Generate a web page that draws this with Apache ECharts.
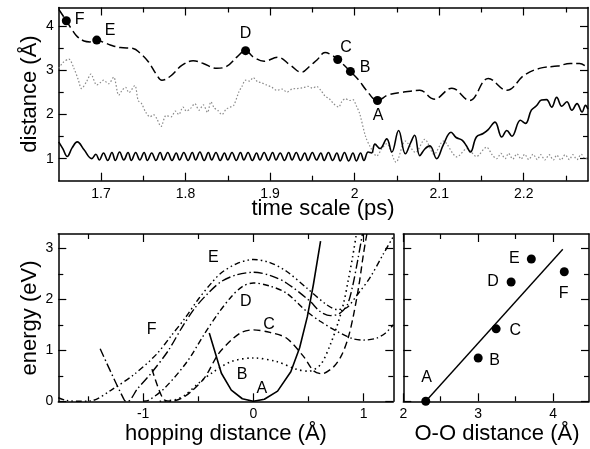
<!DOCTYPE html>
<html><head><meta charset="utf-8">
<script src="https://cdn.jsdelivr.net/npm/echarts@6/dist/echarts.min.js"></script>
<style>html,body{margin:0;padding:0;background:#fff}#c{width:590px;height:449px}</style>
</head><body><div id="c"></div>
<script>
// ---------------- DATA ----------------
// Top panel: distances (Å) vs time (ps)
const ooDistance = [[1.650,4.39],[1.659,4.13],[1.666,3.92],[1.672,3.77],[1.680,3.67],[1.687,3.65],[1.695,3.69],[1.703,3.64],[1.711,3.58],[1.723,3.52],[1.738,3.50],[1.746,3.40],[1.756,3.20],[1.766,2.90],[1.772,2.78],[1.782,2.87],[1.796,3.12],[1.809,3.22],[1.821,3.16],[1.837,3.05],[1.849,3.10],[1.861,3.31],[1.871,3.45],[1.880,3.31],[1.893,3.21],[1.909,3.30],[1.924,3.12],[1.937,2.96],[1.947,3.10],[1.956,3.25],[1.965,3.41],[1.972,3.36],[1.980,3.25],[1.995,2.98],[2.005,2.78],[2.014,2.55],[2.027,2.32],[2.040,2.45],[2.058,2.51],[2.077,2.55],[2.094,2.35],[2.115,2.60],[2.136,2.32],[2.158,2.82],[2.180,2.55],[2.201,2.90],[2.221,3.06],[2.240,3.10],[2.255,3.16],[2.266,3.16],[2.276,3.05]];
const ohDistance = [[1.650,1.38],[1.655,1.22],[1.660,1.05],[1.666,1.25],[1.672,1.38],[1.680,1.20],[1.689,1.00],[1.694,1.10],[1.698,0.97],[1.703,1.13],[1.708,0.96],[1.713,1.14],[1.717,0.96],[1.722,1.15],[1.727,0.97],[1.732,1.14],[1.736,0.96],[1.741,1.14],[1.746,0.97],[1.751,1.14],[1.755,0.96],[1.760,1.13],[1.765,0.96],[1.770,1.14],[1.774,0.97],[1.779,1.14],[1.784,0.96],[1.789,1.13],[1.793,0.97],[1.798,1.14],[1.803,0.96],[1.808,1.14],[1.812,0.97],[1.817,1.15],[1.822,0.96],[1.827,1.14],[1.831,0.97],[1.836,1.14],[1.841,0.96],[1.846,1.13],[1.850,0.97],[1.855,1.14],[1.860,0.96],[1.865,1.14],[1.869,0.97],[1.874,1.14],[1.879,0.96],[1.884,1.13],[1.888,0.97],[1.893,1.14],[1.898,0.96],[1.903,1.14],[1.907,0.97],[1.912,1.13],[1.917,0.96],[1.922,1.14],[1.926,0.97],[1.931,1.14],[1.936,0.96],[1.941,1.13],[1.945,0.96],[1.950,1.14],[1.955,0.97],[1.960,1.13],[1.964,0.96],[1.969,1.14],[1.974,0.96],[1.979,1.13],[1.983,0.95],[1.988,1.14],[1.993,0.95],[1.998,1.13],[2.002,0.95],[2.007,1.13],[2.011,0.96],[2.016,1.15],[2.020,1.13],[2.024,1.33],[2.030,1.23],[2.038,1.45],[2.044,1.15],[2.052,1.64],[2.060,1.11],[2.066,1.35],[2.071,1.53],[2.077,1.07],[2.083,1.22],[2.089,1.29],[2.097,1.00],[2.105,1.32],[2.114,1.60],[2.120,1.48],[2.127,1.42],[2.132,1.30],[2.137,1.15],[2.144,1.49],[2.152,1.57],[2.158,1.66],[2.166,1.83],[2.174,1.49],[2.180,1.64],[2.186,1.51],[2.196,1.87],[2.202,1.80],[2.209,2.10],[2.215,2.20],[2.221,2.33],[2.227,2.34],[2.233,2.17],[2.239,2.39],[2.245,2.19],[2.251,2.29],[2.257,2.10],[2.263,2.25],[2.269,2.06],[2.273,2.21],[2.276,2.12]];
const secondDistance = [[1.650,3.05],[1.655,3.18],[1.662,3.26],[1.668,3.05],[1.673,2.80],[1.677,2.59],[1.683,2.75],[1.688,2.92],[1.695,2.67],[1.699,2.72],[1.703,2.78],[1.709,2.70],[1.715,2.85],[1.721,2.44],[1.725,2.55],[1.729,2.62],[1.733,2.50],[1.740,2.66],[1.744,2.32],[1.748,2.25],[1.753,2.05],[1.758,1.95],[1.762,2.00],[1.766,1.91],[1.771,1.73],[1.777,1.98],[1.783,1.95],[1.788,2.08],[1.792,2.00],[1.797,2.17],[1.801,2.08],[1.806,2.14],[1.811,2.25],[1.816,2.10],[1.821,2.22],[1.826,2.05],[1.830,2.29],[1.834,2.15],[1.838,2.10],[1.843,2.00],[1.848,2.12],[1.853,2.17],[1.857,2.21],[1.863,2.51],[1.867,2.65],[1.871,2.78],[1.876,2.76],[1.880,2.84],[1.885,2.75],[1.890,2.72],[1.896,2.67],[1.902,2.62],[1.908,2.55],[1.914,2.58],[1.920,2.51],[1.926,2.58],[1.932,2.59],[1.939,2.61],[1.945,2.64],[1.950,2.60],[1.955,2.64],[1.960,2.55],[1.965,2.42],[1.970,2.36],[1.975,2.25],[1.981,2.17],[1.985,2.30],[1.989,2.36],[1.994,2.32],[1.998,2.34],[2.002,2.20],[2.006,2.02],[2.013,1.50],[2.019,1.25],[2.026,1.06],[2.032,1.22],[2.038,1.34],[2.049,0.92],[2.060,1.40],[2.072,1.14],[2.083,1.44],[2.094,1.10],[2.105,1.40],[2.121,1.04],[2.133,1.23],[2.144,1.05],[2.156,1.26],[2.163,1.08],[2.168,1.00],[2.173,1.12],[2.178,1.00],[2.182,1.12],[2.187,0.99],[2.192,1.11],[2.197,0.99],[2.201,1.10],[2.206,0.98],[2.211,1.10],[2.216,0.98],[2.220,1.09],[2.225,0.97],[2.230,1.09],[2.235,0.97],[2.239,1.08],[2.244,0.97],[2.249,1.09],[2.254,0.98],[2.258,1.09],[2.263,0.98],[2.268,1.10],[2.273,0.99],[2.276,1.05]];
const stateNames = ['A','B','C','D','E','F'];
const stateTime = [2.027,1.995,1.980,1.871,1.695,1.659];
const stateOO = [2.32,2.98,3.25,3.45,3.69,4.13];

// Bottom left: energy (eV) vs hopping distance (Å)
const curveA = [[-0.40,1.34],[-0.29,0.55],[-0.20,0.22],[-0.10,0.05],[0.00,0.00],[0.10,0.04],[0.22,0.20],[0.34,0.58],[0.42,1.05],[0.49,1.66],[0.545,2.29],[0.61,3.14]];
const curveB = [[-0.85,0.00],[-0.71,0.03],[-0.62,0.12],[-0.50,0.35],[-0.36,0.58],[-0.20,0.78],[0.00,0.85],[0.21,0.78],[0.39,0.63],[0.50,0.59],[0.61,0.72],[0.70,1.12],[0.77,1.55],[0.82,1.93],[0.86,2.36],[0.90,2.82],[0.935,3.28]];
const curveC = [[-0.92,0.63],[-0.82,0.05],[-0.75,0.00],[-0.65,0.06],[-0.56,0.20],[-0.44,0.47],[-0.32,0.92],[-0.20,1.20],[-0.10,1.36],[0.00,1.40],[0.15,1.35],[0.30,1.24],[0.455,0.88],[0.545,0.60],[0.62,0.54],[0.73,0.68],[0.80,0.90],[0.86,1.24],[0.91,1.70],[0.96,2.30],[1.00,2.90],[1.03,3.28]];
const curveD = [[-1.00,0.00],[-0.95,0.02],[-0.80,0.27],[-0.60,0.78],[-0.45,1.30],[-0.32,1.72],[-0.20,2.05],[-0.10,2.25],[0.00,2.32],[0.15,2.26],[0.30,2.12],[0.485,1.76],[0.606,1.57],[0.76,1.37],[0.90,1.23],[1.00,1.20],[1.12,1.24],[1.20,1.34],[1.27,1.50]];
const curveE = [[-1.77,0.07],[-1.70,0.02],[-1.60,0.00],[-1.47,0.01],[-1.29,0.22],[-1.08,0.53],[-0.88,0.92],[-0.74,1.30],[-0.62,1.63],[-0.50,2.00],[-0.38,2.32],[-0.29,2.52],[-0.15,2.70],[0.00,2.78],[0.15,2.72],[0.30,2.55],[0.485,2.22],[0.667,1.89],[0.76,1.80],[0.85,1.84],[0.94,2.08],[1.06,2.43],[1.18,2.89],[1.27,3.23]];
const curveF = [[-1.39,1.03],[-1.17,0.02],[-1.14,0.00],[-1.05,0.25],[-0.92,0.57],[-0.77,1.00],[-0.65,1.44],[-0.53,1.83],[-0.41,2.12],[-0.29,2.35],[-0.15,2.48],[0.00,2.53],[0.15,2.47],[0.30,2.32],[0.515,1.96],[0.606,1.76],[0.70,1.68],[0.78,1.72],[0.85,1.88],[0.90,2.25],[0.95,2.80],[0.99,3.28]];
const curveLabelH = [0.076,-0.103,0.143,-0.069,-0.364,-0.924];
const curveLabelE = [0.255,0.516,1.50,1.953,2.82,1.41];

// Bottom right: barrier (eV) vs O-O distance (Å)
const ooAxisDist = [2.30,3.00,3.24,3.44,3.71,4.15];
const barrier = [0.00,0.85,1.42,2.34,2.79,2.54];
const fitLine = [[2.30,0.00],[4.13,2.98]];

// Tick values
const timeTicks = [1.7,1.8,1.9,2.0,2.1,2.2];
const timeMinor = [1.75,1.85,1.95,2.05,2.15,2.25];
const distTicks = [1,2,3,4];
const distMinor = [1.5,2.5,3.5];
const hopTicks = [-1,0,1];
const hopMinor = [-1.5,-0.5,0.5];
const energyTicks = [0,1,2,3];
const energyMinor = [0.5,1.5,2.5];
const ooTicks = [2,3,4];
const ooMinor = [2.5,3.5];

// ---------------- CHART ----------------
const FONT = '"Liberation Sans", Arial, Helvetica, sans-serif';
const grids = [
  {left:58.7, top:7.5, width:529.3, height:173.2},
  {left:58.3, top:234, width:335, height:167.3},
  {left:403.3, top:234, width:185.7, height:167.3}
];
const allGrids = grids.concat(grids.map(g => Object.assign({}, g)));
const xAxes = [], yAxes = [];
function axis(grid, pos, min, max, ticks, len, labels, line, margin) {
  return {type:'value', gridIndex:grid, position:pos, min:min, max:max,
    axisLine:{show:line, onZero:false, lineStyle:{color:'#000', width:1.5}},
    axisTick:{show:true, inside:true, length:len, customValues:ticks, lineStyle:{color:'#000', width:1.2}},
    axisLabel: labels ? {show:true, customValues:labels, color:'#000', fontFamily:FONT, fontSize:14, margin:margin, formatter:v => String(v)} : {show:false},
    splitLine:{show:false}, minorTick:{show:false}, minorSplitLine:{show:false}};
}
function frame(g, xr, yr) {
  const gm = g + 3;
  const xi = xAxes.length;
  xAxes.push(axis(g,'bottom',xr.min,xr.max,xr.major,8,xr.labels,true,6));
  xAxes.push(axis(g,'top',xr.min,xr.max,xr.major,8,null,true));
  xAxes.push(axis(gm,'bottom',xr.min,xr.max,xr.minor,5,null,false));
  xAxes.push(axis(gm,'top',xr.min,xr.max,xr.minor,5,null,false));
  const yi = yAxes.length;
  yAxes.push(axis(g,'left',yr.min,yr.max,yr.major,8,yr.labels,true,5));
  yAxes.push(axis(g,'right',yr.min,yr.max,yr.major,8,null,true));
  yAxes.push(axis(gm,'left',yr.min,yr.max,yr.minor,5,null,false));
  yAxes.push(axis(gm,'right',yr.min,yr.max,yr.minor,5,null,false));
  return {xi, yi};
}
const topAx = frame(0, {min:1.65, max:2.276, major:timeTicks, minor:timeMinor, labels:timeTicks},
                     {min:0.5, max:4.43, major:distTicks, minor:distMinor, labels:distTicks});
const blAx = frame(1, {min:-1.77, max:1.27, major:hopTicks, minor:hopMinor, labels:hopTicks},
                    {min:0, max:3.28, major:energyTicks, minor:energyMinor, labels:energyTicks});
const brAx = frame(2, {min:2, max:4.48, major:ooTicks, minor:ooMinor, labels:ooTicks},
                    {min:0, max:3.28, major:energyTicks, minor:energyMinor, labels:null});

function lineS(ax, data, color, width, type, smooth) {
  return {type:'line', xAxisIndex:ax.xi, yAxisIndex:ax.yi, data:data, showSymbol:false, symbol:'none',
    smooth:smooth, clip:true, lineStyle:{color:color, width:width, type:type, opacity:1}, silent:true, z:3};
}
const labelText = {show:true, position:'inside', formatter:'{b}', color:'#000', opacity:1, fontFamily:FONT, fontSize:16, textBorderWidth:0, textBorderColor:'transparent'};

const topOffsets = {A:[0.7,15.3], B:[14.7,-4.3], C:[8.3,-11.5], D:[0,-17.4], E:[13.3,-9.5], F:[13.3,-0.7]};
const brOffsets = {A:[0.7,-24.2], B:[16.3,2.5], C:[19.1,1.5], D:[-18,-0.2], E:[-17,-0.5], F:[-0.7,21.5]};
const dotStyle = {color:'#000', opacity:1};

const series = [
  lineS(topAx, secondDistance, '#8a8a8a', 1.2, [1.5,2], 0.3),
  lineS(topAx, ohDistance, '#000', 1.6, 'solid', 0.4),
  lineS(topAx, ooDistance, '#000', 1.5, [9,4], 0.4),
  {type:'scatter', xAxisIndex:topAx.xi, yAxisIndex:topAx.yi, symbol:'circle', symbolSize:9, clip:false, z:5, silent:true,
   itemStyle:dotStyle, label:labelText,
   data: stateNames.map((n,i) => ({name:n, value:[stateTime[i], stateOO[i]], label:{offset:topOffsets[n]}}))},

  lineS(blAx, curveB, '#000', 1.6, [1.5,3.5], 0.3),
  lineS(blAx, curveC, '#000', 1.4, [7,4], 0.3),
  lineS(blAx, curveD, '#000', 1.4, [6,3,1.5,3], 0.3),
  lineS(blAx, curveE, '#000', 1.4, [6,3,1.5,3,1.5,3], 0.3),
  lineS(blAx, curveF, '#000', 1.4, [9,3,1.5,3], 0.3),
  lineS(blAx, curveA, '#000', 1.6, 'solid', false),
  {type:'scatter', xAxisIndex:blAx.xi, yAxisIndex:blAx.yi, symbol:'circle', symbolSize:0.1, clip:false, z:6, silent:true,
   itemStyle:{color:'#000', opacity:1}, label:labelText,
   data: stateNames.map((n,i) => ({name:n, value:[curveLabelH[i], curveLabelE[i]]}))},

  lineS(brAx, fitLine, '#000', 1.4, 'solid', false),
  {type:'scatter', xAxisIndex:brAx.xi, yAxisIndex:brAx.yi, symbol:'circle', symbolSize:9, clip:false, z:5, silent:true,
   itemStyle:dotStyle, label:labelText,
   data: stateNames.map((n,i) => ({name:n, value:[ooAxisDist[i], barrier[i]], label:{offset:brOffsets[n]}}))}
];

function title(text, x, y, rot) {
  return {type:'text', x:x, y:y, rotation:rot ? Math.PI/2 : 0, silent:true, z:10,
    style:{text:text, font:'22px ' + FONT, fill:'#000', align:'center', verticalAlign:'middle', textAlign:'center', textVerticalAlign:'middle'}};
}

const chart = echarts.init(document.getElementById('c'), null, {renderer:'canvas'});
chart.setOption({
  animation:false,
  backgroundColor:'#fff',
  grid: allGrids,
  xAxis: xAxes,
  yAxis: yAxes,
  series: series,
  graphic: [
    title('distance (Å)', 30, 94, true),
    title('time scale (ps)', 323, 209, false),
    title('energy (eV)', 30, 318, true),
    title('hopping distance (Å)', 226, 434, false),
    title('O-O distance (Å)', 497, 434, false)
  ]
});
</script>
</body></html>
